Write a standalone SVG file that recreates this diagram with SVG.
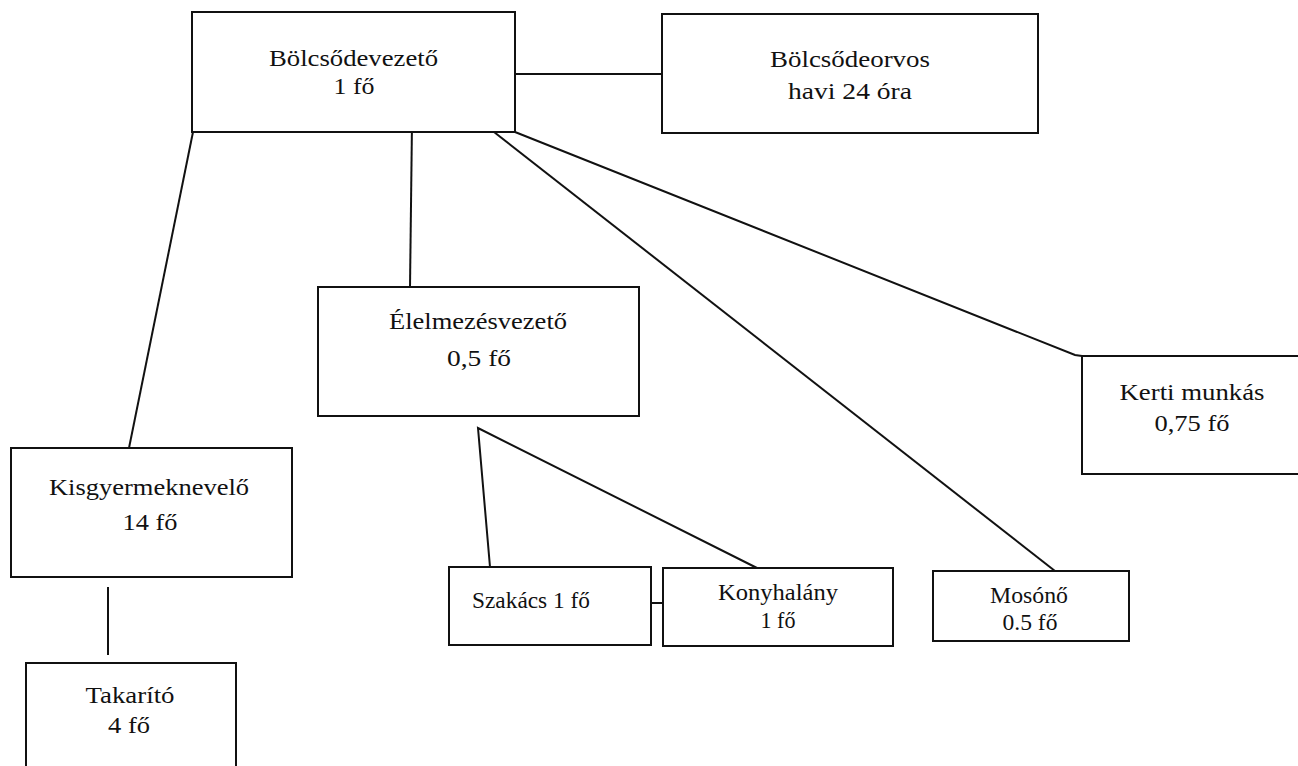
<svg xmlns="http://www.w3.org/2000/svg" width="1298" height="766" viewBox="0 0 1298 766">
<style>
.box{fill:#fff;stroke:#111;stroke-width:2}
.t{font-family:"Liberation Serif","Times New Roman",serif;font-size:24px;fill:#111;text-anchor:middle}
.s{font-family:"Liberation Serif","Times New Roman",serif;font-size:23px;fill:#111;text-anchor:middle}
.c{stroke:#111;stroke-width:2;fill:none}
</style>
<rect width="1298" height="766" fill="#fff"/>
<g id="connectors">
<line class="c" x1="515" y1="74" x2="662" y2="74"/>
<line class="c" x1="193" y1="132" x2="129" y2="448"/>
<line class="c" x1="412" y1="123" x2="410" y2="287"/>
<line class="c" x1="494" y1="132" x2="1055" y2="571"/>
<polyline class="c" points="515,132 1075,355 1082,356"/>
<line class="c" x1="108" y1="587" x2="108" y2="655"/>
<polyline class="c" points="490,567 478,428 757,568"/>
<line class="c" x1="642" y1="603" x2="668" y2="603"/>
</g>
<g id="n-bolcsodevezeto">
<rect class="box" x="192" y="12" width="323" height="120"/>
<text class="t" x="353.5" y="66" textLength="169" lengthAdjust="spacingAndGlyphs">Bölcsődevezető</text>
<text class="t" x="354" y="94" textLength="41" lengthAdjust="spacingAndGlyphs">1 fő</text>
</g>
<g id="n-bolcsodeorvos">
<rect class="box" x="662" y="14" width="376" height="119"/>
<text class="t" x="850" y="67" textLength="160" lengthAdjust="spacingAndGlyphs">Bölcsődeorvos</text>
<text class="t" x="850" y="99" textLength="124" lengthAdjust="spacingAndGlyphs">havi 24 óra</text>
</g>
<g id="n-elelmezesvezeto">
<rect class="box" x="318" y="287" width="321" height="129"/>
<text class="t" x="478" y="329" textLength="178" lengthAdjust="spacingAndGlyphs">Élelmezésvezető</text>
<text class="t" x="479" y="366" textLength="64" lengthAdjust="spacingAndGlyphs">0,5 fő</text>
</g>
<g id="n-kerti">
<rect class="box" x="1082" y="356" width="222" height="118"/>
<text class="t" x="1192" y="400" textLength="145" lengthAdjust="spacingAndGlyphs">Kerti munkás</text>
<text class="t" x="1192" y="431" textLength="75" lengthAdjust="spacingAndGlyphs">0,75 fő</text>
</g>
<g id="n-kisgyermeknevelo">
<rect class="box" x="11" y="448" width="281" height="129"/>
<text class="t" x="149" y="495" textLength="200" lengthAdjust="spacingAndGlyphs">Kisgyermeknevelő</text>
<text class="t" x="150" y="530" textLength="55" lengthAdjust="spacingAndGlyphs">14 fő</text>
</g>
<g id="n-takarito">
<rect class="box" x="26" y="663" width="210" height="120"/>
<text class="t" x="130" y="703" textLength="89" lengthAdjust="spacingAndGlyphs">Takarító</text>
<text class="t" x="129" y="733" textLength="42" lengthAdjust="spacingAndGlyphs">4 fő</text>
</g>
<g id="n-szakacs">
<rect class="box" x="449" y="567" width="202" height="78"/>
<text class="s" x="531" y="608" textLength="118" lengthAdjust="spacingAndGlyphs">Szakács 1 fő</text>
</g>
<g id="n-konyhalany">
<rect class="box" x="663" y="568" width="230" height="78"/>
<text class="s" x="778" y="600" textLength="120" lengthAdjust="spacingAndGlyphs">Konyhalány</text>
<text class="s" x="778" y="628" textLength="35" lengthAdjust="spacingAndGlyphs">1 fő</text>
</g>
<g id="n-mosono">
<rect class="box" x="933" y="571" width="196" height="70"/>
<text class="s" x="1029" y="603" textLength="78" lengthAdjust="spacingAndGlyphs">Mosónő</text>
<text class="s" x="1030" y="630" textLength="55" lengthAdjust="spacingAndGlyphs">0.5 fő</text>
</g>
</svg>
